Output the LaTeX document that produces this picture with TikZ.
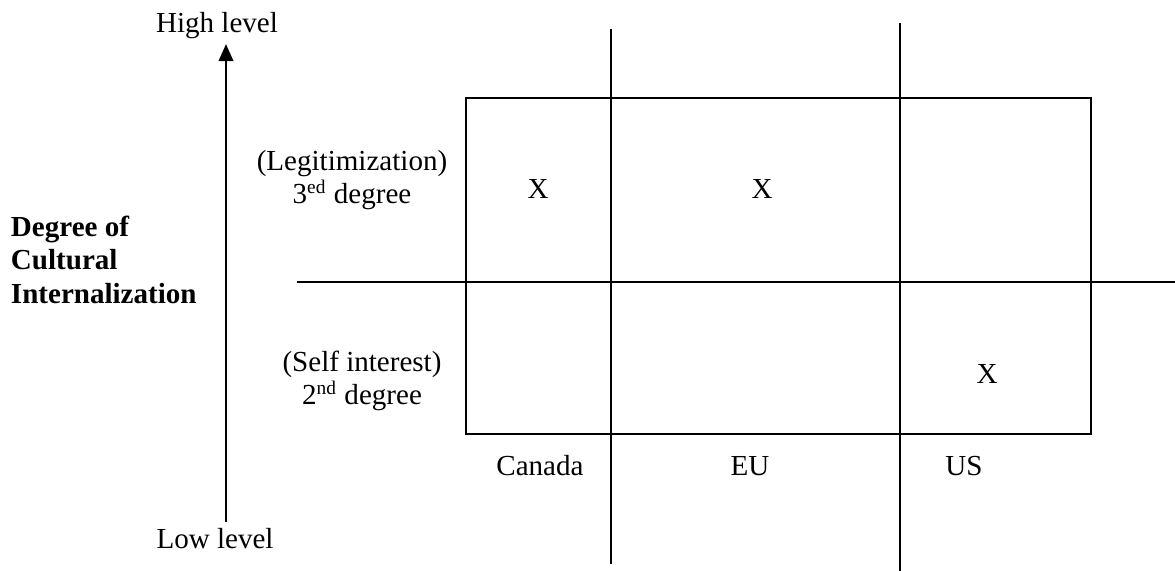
\documentclass[tikz,border=0pt]{standalone}
\usepackage{fontspec}
\setmainfont{Liberation Serif}
\usetikzlibrary{arrows.meta}
\begin{document}
\begin{tikzpicture}[x=0.413pt,y=-0.413pt,line width=0.8pt,
  font=\fontsize{12}{13.8}\selectfont]
\useasboundingbox (0,0) rectangle (1175,571);
\draw (466,98) rectangle (1091,434);
\draw (297,282) -- (1175,282);
\draw (611,29) -- (611,564);
\draw (900,23) -- (900,571);
\node[inner sep=2pt,anchor=base] (high) at (217,32) {High level};
\node[inner sep=2pt,anchor=base] (low) at (215,548) {Low level};
\coordinate (axis) at (226,282);
\draw[-{Triangle[length=7pt,width=6pt]}] (low.north -| axis) -- (high.south -| axis);
\node[inner sep=0pt,anchor=north west,align=left,font=\fontsize{12}{13.8}\selectfont\bfseries] (degree) at (10,215) {Degree of\\Cultural\\Internalization};
\node[inner sep=0pt,anchor=north,align=center] (third) at (352,149) {(Legitimization)\\3\textsuperscript{ed} degree};
\node[inner sep=0pt,anchor=north,align=center] (second) at (362,350) {(Self interest)\\2\textsuperscript{nd} degree};
\node (x1) at (538,189) {X};
\node (x2) at (762,189) {X};
\node (x3) at (987,374) {X};
\node[anchor=base] (canada) at (540,475) {Canada};
\node[anchor=base] (eu) at (750,475) {EU};
\node[anchor=base] (us) at (964,475) {US};
\end{tikzpicture}
\end{document}
